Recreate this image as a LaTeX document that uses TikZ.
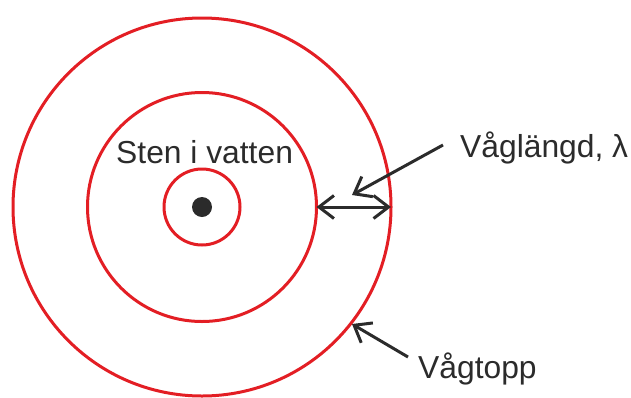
\documentclass[tikz,border=0pt]{standalone}
\usepackage{fontspec}
\setmainfont{Liberation Sans}
\usetikzlibrary{arrows.meta}
\definecolor{wavered}{HTML}{E31E24}
\definecolor{ink}{HTML}{2B2B2B}
\begin{document}
\begin{tikzpicture}[x=1pt,y=-1pt,
  wave/.style={draw=wavered,line width=3pt},
  lbl/.style={text=ink,font=\fontsize{31.8}{36}\selectfont,inner sep=0pt,anchor=base west},
  pointer/.style={draw=ink,line width=3pt,-{Straight Barb[length=15pt,width=23pt,line width=3pt]}},
  dimline/.style={draw=ink,line width=3pt,{Straight Barb[length=15pt,width=23pt,line width=3pt]}-{Straight Barb[length=15pt,width=23pt,line width=3pt]}}]
\useasboundingbox (0,0) rectangle (631,397);
\coordinate (c) at (202,207);
\draw[wave] (c) circle[radius=189];
\draw[wave] (c) circle[radius=114.5];
\draw[wave] (c) circle[radius=38];
\fill[ink] (c) circle[radius=10];
\node[lbl] (sten) at (116,163) {Sten i vatten};
\node[lbl] (lambda) at (460,157) {Våglängd, λ};
\node[lbl] (topp) at (418,378) {Vågtopp};
\coordinate (a1) at (316.5,207);
\coordinate (a2) at (391,207);
\coordinate (l0) at (443,145);
\coordinate (l1) at (352,195);
\coordinate (t0) at (408,357);
\coordinate (t1) at (352,324);
\draw[dimline] (a1) -- (a2);
\draw[pointer] (l0) -- (l1);
\draw[pointer] (t0) -- (t1);
\end{tikzpicture}
\end{document}
